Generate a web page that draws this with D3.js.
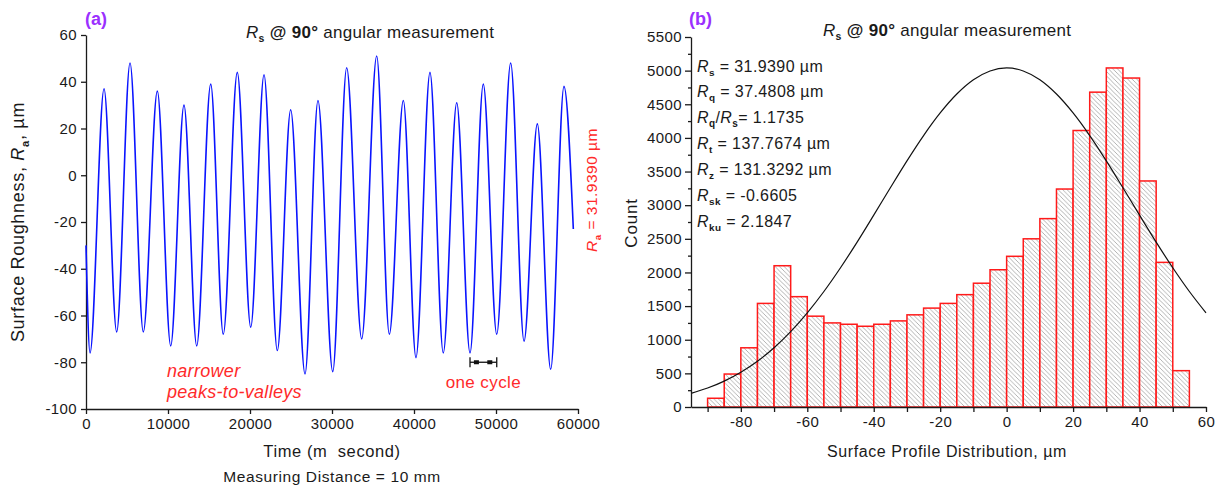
<!DOCTYPE html>
<html>
<head>
<meta charset="utf-8">
<script src="https://cdn.jsdelivr.net/npm/d3@7"></script>
<style>
  body { margin: 0; background: #fff; }
  svg text { font-family: "Liberation Sans", Arial, sans-serif; fill: #1a1a1a; }
  .axis path, .axis line { stroke: #1a1a1a; stroke-width: 1.3; }
  .axis text { font-size: 15px; letter-spacing: 0.4px; fill: #1a1a1a; }
</style>
</head>
<body>
<div id="vis"></div>
<script>
// ---- data ----
// (a) surface profile: turning points of the trace (time in m second, height in um)
const PROFILE_TIME = [0, 490, 2200, 3740, 5370, 6990, 8700, 10330, 11950, 13500, 15210,
  16740, 18450, 20090, 21710, 23330, 24960, 26710, 28290, 30090, 31790, 33620, 35450,
  36990, 38700, 40240, 41950, 43570, 45210, 46830, 48450, 50090, 51790, 53420, 55040,
  56670, 58290, 59430];
const PROFILE_VALUE = [-30, -76, 37, -67, 48, -67, 36, -73, 30, -73, 39,
  -68, 44, -65, 43, -75, 28, -85, 32, -84, 46, -70, 51,
  -68, 32, -78, 44, -76, 31, -76, 39, -68, 48, -71, 22,
  -83, 38, -23];
const CYCLE_SPAN = [46830, 50090];   // "one cycle" marker
const CYCLE_LEVEL = -80;

// (b) histogram of the profile, bins of 5 um
const BIN_START = [-90, -85, -80, -75, -70, -65, -60, -55, -50, -45, -40, -35, -30, -25,
  -20, -15, -10, -5, 0, 5, 10, 15, 20, 25, 30, 35, 40, 45, 50];
const BIN_COUNT = [130, 490, 880, 1540, 2100, 1640, 1350, 1250, 1230, 1200, 1230, 1280,
  1370, 1470, 1540, 1670, 1840, 2040, 2240, 2500, 2800, 3240, 4110, 4680, 5040, 4890,
  3360, 2150, 540];
const BIN_WIDTH = 5;

// normal fit curve as traced
const FIT_X = [-95, -90, -85, -80, -75, -70, -65, -60, -55, -50, -45, -40, -35, -30, -25,
  -20, -15, -10, -5, 0, 5, 10, 15, 20, 25, 30, 35, 40, 45, 50, 55, 60];
const FIT_Y = [203, 282, 385, 517, 681, 881, 1120, 1400, 1717, 2070, 2451, 2852, 3259,
  3659, 4035, 4371, 4652, 4864, 4995, 5040, 4995, 4864, 4652, 4371, 4035, 3659, 3259,
  2852, 2451, 2070, 1717, 1400];

// roughness parameters: subscript, text after it
const STAT_SUB = ["s", "q", null, "t", "z", "sk", "ku"];
const STAT_TXT = [" = 31.9390 µm", " = 37.4808 µm", "= 1.1735", " = 137.7674 µm",
  " = 131.3292 µm", " = -0.6605", " = 2.1847"];

const TICKS_A_X = [0, 10000, 20000, 30000, 40000, 50000, 60000];
const TICKS_A_Y = [-100, -80, -60, -40, -20, 0, 20, 40, 60];
const TICKS_B_X = [-90, -80, -70, -60, -50, -40, -30, -20, -10, 0, 10, 20, 30, 40, 50, 60];
const TICKS_B_Y = [0, 500, 1000, 1500, 2000, 2500, 3000, 3500, 4000, 4500, 5000, 5500];
const TICKS_B_Y_MINOR = [250, 750, 1250, 1750, 2250, 2750, 3250, 3750, 4250, 4750, 5250];

// ---- frame ----
const FRAME_WIDTH = 1215;
const FRAME_HEIGHT = 486;
const RED = "#ff2a2a";
const PURPLE = "#9b30ff";

const FRAME = d3.select("#vis")
  .append("svg")
    .attr("width", FRAME_WIDTH)
    .attr("height", FRAME_HEIGHT);

// hatch for the bars
const defs = FRAME.append("defs");
const pat = defs.append("pattern")
  .attr("id", "hatch")
  .attr("patternUnits", "userSpaceOnUse")
  .attr("width", 4.5)
  .attr("height", 4.5);
pat.append("rect").attr("width", 4.5).attr("height", 4.5).attr("fill", "#fff");
pat.append("path")
  .attr("d", "M-1,-1 L5.5,5.5 M-1,3.5 L1,5.5 M3.5,-1 L5.5,1")
  .attr("stroke", "#a0a0a0")
  .attr("stroke-width", 0.8);

// helper for "R" + subscript labels
function rLabel(sel, sub, rest, size) {
  sel.append("tspan").attr("font-style", "italic").text("R");
  sel.append("tspan").attr("font-size", size * 0.62).attr("font-weight", "bold")
    .attr("dy", size * 0.25).text(sub);
  sel.append("tspan").attr("dy", -size * 0.25).text(rest);
}

function title(x, y) {
  const t = FRAME.append("text").attr("x", x).attr("y", y)
    .attr("font-size", 17).attr("letter-spacing", "0.3px");
  t.append("tspan").attr("font-style", "italic").text("R");
  t.append("tspan").attr("font-size", 10.5).attr("font-weight", "bold").attr("dy", 4).text("s");
  t.append("tspan").attr("font-weight", "bold").attr("dy", -4).text(" @ 90°");
  t.append("tspan").text(" angular measurement");
}

const plain = (d) => String(d);

// ================= (a) surface profile =================
const A_X = d3.scaleLinear().domain([0, 60000]).range([86, 578]);
const A_Y = d3.scaleLinear().domain([-100, 60]).range([409, 35]);

FRAME.append("g")
  .attr("class", "axis")
  .attr("transform", "translate(0," + A_Y(-100) + ")")
  .call(d3.axisBottom(A_X).tickValues(TICKS_A_X).tickSize(5).tickSizeOuter(0)
        .tickPadding(4).tickFormat(plain));

FRAME.append("g")
  .attr("class", "axis")
  .attr("transform", "translate(" + A_X(0) + ",0)")
  .call(d3.axisLeft(A_Y).tickValues(TICKS_A_Y).tickSize(5).tickSizeOuter(0)
        .tickPadding(4).tickFormat(plain));

const profile = PROFILE_TIME.map((t, i) => ({t: t, v: PROFILE_VALUE[i]}));
FRAME.append("path")
  .datum(profile)
  .attr("fill", "none")
  .attr("stroke", "#0a14ff")
  .attr("stroke-width", 1.6)
  .attr("d", d3.line()
    .x((d) => A_X(d.t))
    .y((d) => A_Y(d.v))
    .curve(d3.curveMonotoneX));

// one cycle bracket
const cy = A_Y(CYCLE_LEVEL);
const c0 = A_X(CYCLE_SPAN[0]), c1 = A_X(CYCLE_SPAN[1]);
const br = FRAME.append("g").attr("stroke", "#111").attr("stroke-width", 1.3);
br.append("line").attr("x1", c0).attr("x2", c1).attr("y1", cy).attr("y2", cy);
br.append("line").attr("x1", c0).attr("x2", c0).attr("y1", cy - 5).attr("y2", cy + 5);
br.append("line").attr("x1", c1).attr("x2", c1).attr("y1", cy - 5).attr("y2", cy + 5);
[0.24, 0.74].forEach((f) => {
  FRAME.append("rect").attr("x", c0 + (c1 - c0) * f - 2.5).attr("y", cy - 2)
    .attr("width", 5).attr("height", 4).attr("fill", "#111");
});
FRAME.append("text").attr("x", (c0 + c1) / 2).attr("y", 388)
  .attr("text-anchor", "middle").attr("font-size", 17).attr("letter-spacing", "0.4px")
  .style("fill", RED).text("one cycle");

FRAME.append("text").attr("x", 167).attr("y", 377).attr("font-size", 18)
  .attr("letter-spacing", "0.3px")
  .attr("font-style", "italic").style("fill", RED).text("narrower");
FRAME.append("text").attr("x", 167).attr("y", 398).attr("font-size", 18)
  .attr("letter-spacing", "0.3px")
  .attr("font-style", "italic").style("fill", RED).text("peaks-to-valleys");

// labels
FRAME.append("text").attr("x", 85).attr("y", 25).attr("font-size", 18)
  .attr("font-weight", "bold").style("fill", PURPLE).text("(a)");
title(246, 38);

FRAME.append("text").attr("x", 332).attr("y", 457).attr("text-anchor", "middle")
  .attr("font-size", 16.5).attr("letter-spacing", "0.6px")
  .attr("xml:space", "preserve").text("Time (m  second)");
FRAME.append("text").attr("x", 332).attr("y", 482).attr("text-anchor", "middle")
  .attr("font-size", 15.5).attr("letter-spacing", "0.6px").text("Measuring Distance = 10 mm");

const ylabA = FRAME.append("text")
  .attr("transform", "translate(24,222) rotate(-90)")
  .attr("text-anchor", "middle").attr("font-size", 18).attr("letter-spacing", "0.7px");
ylabA.append("tspan").text("Surface Roughness, ");
rLabel(ylabA, "a", ", µm", 18);

const raLab = FRAME.append("text")
  .attr("transform", "translate(597,190) rotate(-90)")
  .attr("text-anchor", "middle").attr("font-size", 15.5).attr("letter-spacing", "0.5px")
  .style("fill", RED);
rLabel(raLab, "a", " = 31.9390 µm", 15.5);
raLab.selectAll("tspan").style("fill", RED);

// ================= (b) histogram =================
const B_X = d3.scaleLinear().domain([-95, 60]).range([691, 1206]);
const B_Y = d3.scaleLinear().domain([0, 5500]).range([407, 37]);

FRAME.append("g")
  .selectAll("rect")
  .data(BIN_START)
  .enter()
  .append("rect")
    .attr("x", (d) => B_X(d))
    .attr("y", (d, i) => B_Y(BIN_COUNT[i]))
    .attr("width", (d) => B_X(d + BIN_WIDTH) - B_X(d))
    .attr("height", (d, i) => B_Y(0) - B_Y(BIN_COUNT[i]))
    .attr("fill", "url(#hatch)")
    .attr("stroke", "#ff1a1a")
    .attr("stroke-width", 1.5);

const fit = FIT_X.map((x, i) => ({x: x, y: FIT_Y[i]}));
FRAME.append("path")
  .datum(fit)
  .attr("fill", "none")
  .attr("stroke", "#111")
  .attr("stroke-width", 1.2)
  .attr("d", d3.line()
    .x((d) => B_X(d.x))
    .y((d) => B_Y(d.y))
    .curve(d3.curveMonotoneX));

FRAME.append("g")
  .attr("class", "axis")
  .attr("transform", "translate(0," + B_Y(0) + ")")
  .call(d3.axisBottom(B_X).tickValues(TICKS_B_X).tickSize(5).tickSizeOuter(0)
        .tickPadding(4).tickFormat((d) => (d % 20 === 0 ? String(d) : "")));

FRAME.append("g")
  .attr("class", "axis")
  .attr("transform", "translate(" + B_X(-95) + ",0)")
  .call(d3.axisLeft(B_Y).tickValues(TICKS_B_Y).tickSize(6).tickSizeOuter(0)
        .tickPadding(3).tickFormat(plain));

FRAME.append("g")
  .attr("class", "axis")
  .attr("transform", "translate(" + B_X(-95) + ",0)")
  .call(d3.axisLeft(B_Y).tickValues(TICKS_B_Y_MINOR).tickSize(3).tickFormat(""))
  .select(".domain").remove();

// stats block
STAT_SUB.forEach((sub, i) => {
  const t = FRAME.append("text").attr("x", 697).attr("y", 71.5 + i * 25.9)
    .attr("font-size", 16).attr("letter-spacing", "0.4px");
  if (sub === null) {
    t.append("tspan").attr("font-style", "italic").text("R");
    t.append("tspan").attr("font-size", 10).attr("font-weight", "bold").attr("dy", 4).text("q");
    t.append("tspan").attr("dy", -4).text("/");
    t.append("tspan").attr("font-style", "italic").text("R");
    t.append("tspan").attr("font-size", 10).attr("font-weight", "bold").attr("dy", 4).text("s");
    t.append("tspan").attr("dy", -4).text(STAT_TXT[i]);
  } else {
    rLabel(t, sub, STAT_TXT[i], 16);
  }
});

FRAME.append("text").attr("x", 689).attr("y", 25).attr("font-size", 18)
  .attr("font-weight", "bold").style("fill", PURPLE).text("(b)");
title(823, 36);

FRAME.append("text").attr("x", 947).attr("y", 457).attr("text-anchor", "middle")
  .attr("font-size", 16).attr("letter-spacing", "0.6px")
  .text("Surface Profile Distribution, µm");

FRAME.append("text")
  .attr("transform", "translate(637,223) rotate(-90)")
  .attr("text-anchor", "middle").attr("font-size", 17).attr("letter-spacing", "0.8px")
  .text("Count");
</script>
</body>
</html>
